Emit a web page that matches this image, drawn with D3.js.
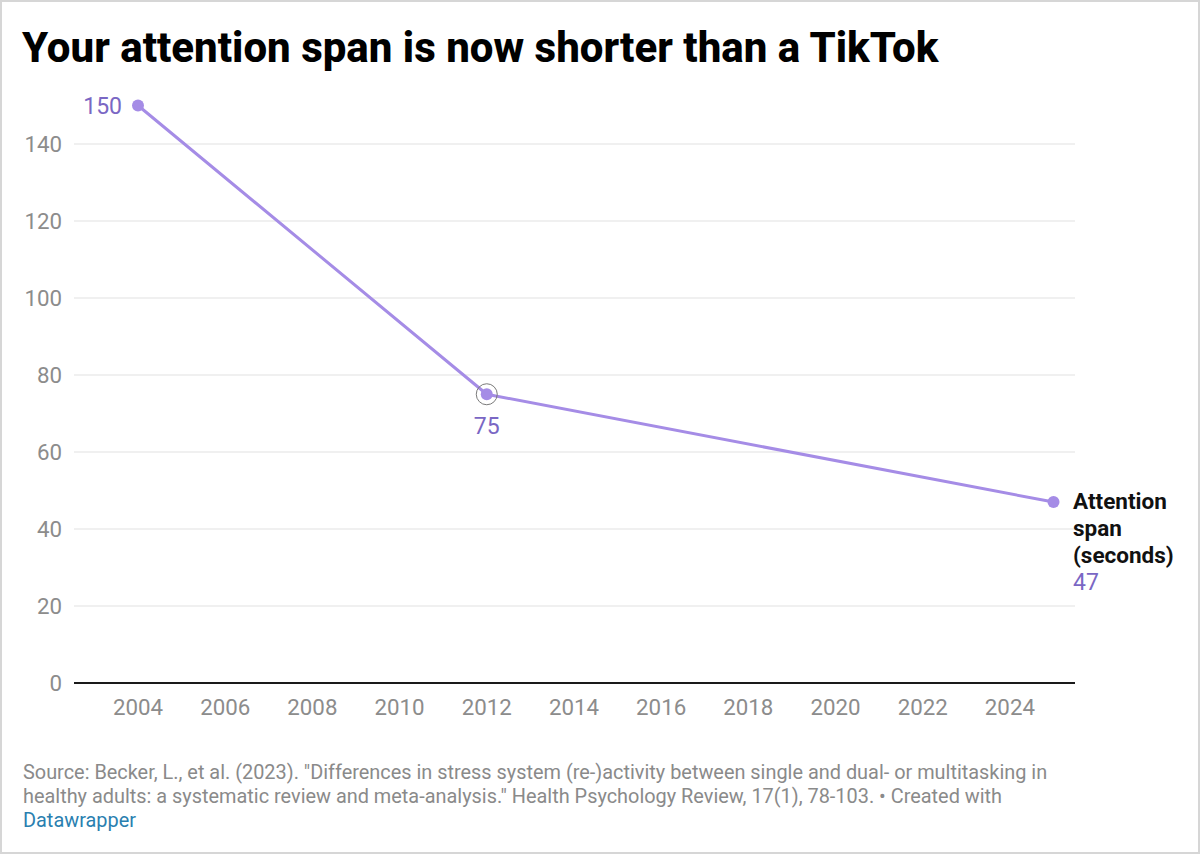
<!DOCTYPE html>
<html><head><meta charset="utf-8">
<script src="https://cdn.jsdelivr.net/npm/d3@7"></script>
<style>
html,body{margin:0;padding:0;background:#fff;}
svg{display:block;font-family:Roboto,"Noto Sans",sans-serif;}
</style></head>
<body>
<script>
const years = [2004, 2012, 2025];
const values = [150, 75, 47];
const yTicks = [0, 20, 40, 60, 80, 100, 120, 140];
const xTicks = [2004, 2006, 2008, 2010, 2012, 2014, 2016, 2018, 2020, 2022, 2024];
const title = "Your attention span is now shorter than a TikTok";
const seriesLabel = ["Attention", "span", "(seconds)"];
const sourceLines = [
  "Source: Becker, L., et al. (2023). \"Differences in stress system (re-)activity between single and dual- or multitasking in",
  "healthy adults: a systematic review and meta-analysis.\" Health Psychology Review, 17(1), 78-103. \u2022 Created with"
];
const creditLink = "Datawrapper";

const W = 1200, H = 854;
const svg = d3.select("body").append("svg").attr("width", W).attr("height", H);
svg.append("rect").attr("x",1).attr("y",1).attr("width",W-2).attr("height",H-2)
  .attr("fill","#fff").attr("stroke","#d6d6d6").attr("stroke-width",2);

svg.append("text").attr("x",22).attr("y",62).attr("font-size",42).attr("font-weight",800)
  .attr("fill","#000").text(title);

const x = d3.scaleLinear().domain([2004, 2025]).range([138, 1053.5]);
const y = d3.scaleLinear().domain([0, 140]).range([683, 144]);
const gridL = 74, gridR = 1075;
const tickFs = 22.3;

const grid = svg.append("g");
yTicks.forEach(t => {
  if (t !== 0) grid.append("line").attr("x1",gridL).attr("x2",gridR).attr("y1",y(t)).attr("y2",y(t))
    .attr("stroke","#e1e1e1").attr("stroke-width",1.2);
  grid.append("text").attr("x",62).attr("y",y(t)).attr("dy","0.35em").attr("text-anchor","end")
    .attr("font-size",tickFs).attr("fill","#8c8c8c").text(t);
});
svg.append("line").attr("x1",gridL).attr("x2",gridR).attr("y1",y(0)).attr("y2",y(0))
  .attr("stroke","#1a1a1a").attr("stroke-width",2);

xTicks.forEach(t => {
  svg.append("text").attr("x",x(t)).attr("y",715).attr("text-anchor","middle")
    .attr("font-size",tickFs).attr("fill","#8c8c8c").text(t);
});

const data = years.map((d,i)=>({year:d, value:values[i]}));
const lineColor = "#a58ce6";
svg.append("path").datum(data)
  .attr("d", d3.line().x(d=>x(d.year)).y(d=>y(d.value)))
  .attr("fill","none").attr("stroke",lineColor).attr("stroke-width",3);

svg.append("circle").attr("cx",x(years[1])).attr("cy",y(values[1])).attr("r",10.5)
  .attr("fill","none").attr("stroke","#7a7a7a").attr("stroke-width",1);
svg.selectAll("circle.pt").data(data).enter().append("circle").attr("class","pt")
  .attr("cx",d=>x(d.year)).attr("cy",d=>y(d.value)).attr("r",6).attr("fill",lineColor);

const labColor = "#7a67c4";
const valFs = 23;
svg.append("text").attr("x",x(years[0])-16).attr("y",y(values[0])).attr("dy","0.35em")
  .attr("text-anchor","end").attr("font-size",valFs).attr("fill",labColor).text(values[0]);
svg.append("text").attr("x",x(years[1])).attr("y",y(values[1])+40)
  .attr("text-anchor","middle").attr("font-size",valFs).attr("fill",labColor).text(values[1]);

const lx = 1073;
seriesLabel.forEach((s,i)=>{
  svg.append("text").attr("x",lx).attr("y",509+i*27).attr("font-size",22.5).attr("font-weight",700)
    .attr("fill","#111").text(s);
});
svg.append("text").attr("x",lx).attr("y",590).attr("font-size",valFs).attr("fill",labColor).text(values[2]);

sourceLines.forEach((s,i)=>{
  svg.append("text").attr("x",23).attr("y",779+i*24).attr("font-size",19.9).attr("fill","#8a8a8a").text(s);
});
svg.append("text").attr("x",23).attr("y",827).attr("font-size",19.9).attr("fill","#2a7fb0").text(creditLink);
</script>
</body></html>
